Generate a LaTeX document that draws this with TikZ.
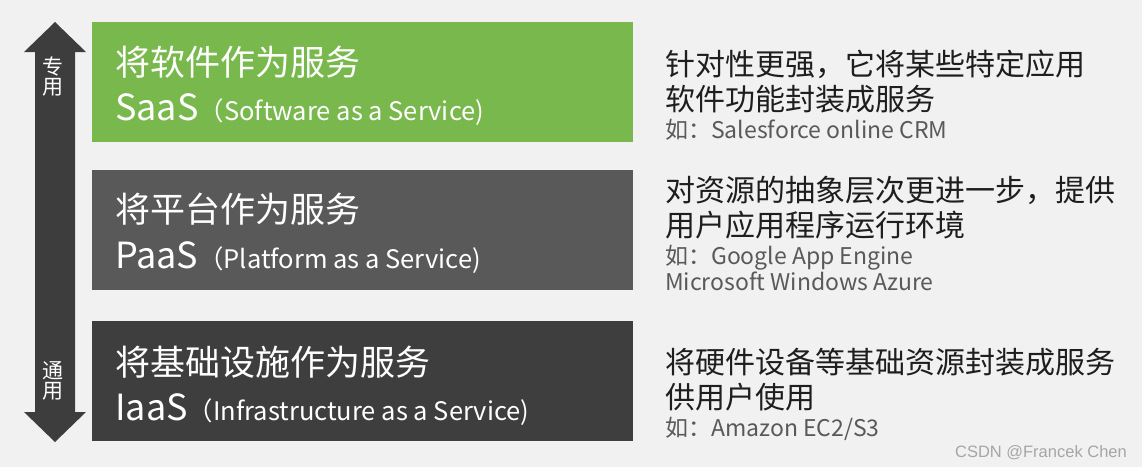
\documentclass[tikz,border=0pt]{standalone}
\usepackage{fontspec}
\setmainfont{Noto Sans CJK SC}
\newfontfamily\wmfont{Liberation Sans}
\definecolor{bgc}{HTML}{F1F1F1}
\definecolor{saasc}{HTML}{79B84C}
\definecolor{paasc}{HTML}{595959}
\definecolor{iaasc}{HTML}{3E3E3E}
\definecolor{arrowc}{HTML}{3D3D3D}
\definecolor{desc}{HTML}{1E1E1E}
\definecolor{exc}{HTML}{595959}
\definecolor{wmc}{HTML}{A6A6A6}
\newcommand{\fs}[1]{\fontsize{#1}{#1}\selectfont}
\tikzset{
  layerbox/.style={draw=none, minimum width=541pt, minimum height=120pt, anchor=north west, inner sep=0pt},
  cntitle/.style={anchor=base west, inner sep=0pt, text=white, font=\fs{35}},
  entitle/.style={anchor=base west, inner sep=0pt, text=white, font=\fs{36}},
  desctext/.style={anchor=base west, inner sep=0pt, text=desc, font=\fs{30}},
  extext/.style={anchor=base west, inner sep=0pt, text=exc, font=\fs{23}},
  vtext/.style={inner sep=0pt, text=white, font=\fs{21}, align=center},
}
\begin{document}
\begin{tikzpicture}[x=1pt,y=-1pt]
\fill[bgc] (0,0) rectangle (1142,467);
\useasboundingbox (0,0) rectangle (1142,467);

% double arrow
\fill[arrowc] (55,22) -- (86,52) -- (75,52) -- (75,412) -- (86,412) -- (55,442)
  -- (24,412) -- (35,412) -- (35,52) -- (24,52) -- cycle;
\node[vtext] (zhuan) at (53,77) {专\\[-1pt]用};
\node[vtext] (tong) at (53,381) {通\\[-1pt]用};

% boxes
\node[layerbox, fill=saasc] (saas) at (92,22) {};
\node[layerbox, fill=paasc] (paas) at (92,170) {};
\node[layerbox, fill=iaasc] (iaas) at (92,321) {};

% box titles
\node[cntitle] (saas1) at (115,75) {将软件作为服务};
\node[entitle] (saas2) at (115,120) {SaaS{\fs{25.5}（Software as a Service)}};
\node[cntitle] (paas1) at (115,222) {将平台作为服务};
\node[entitle] (paas2) at (115,268) {PaaS{\fs{25.5}（Platform as a Service)}};
\node[cntitle] (iaas1) at (115,375) {将基础设施作为服务};
\node[entitle] (iaas2) at (115,420) {IaaS{\fs{25.5}（Infrastructure as a Service)}};

% descriptions
\node[desctext] (sd1) at (665,75) {针对性更强，它将某些特定应用};
\node[desctext] (sd2) at (665,110) {软件功能封装成服务};
\node[extext] (se1) at (665,138) {如：Salesforce online CRM};

\node[desctext] (pd1) at (665,201) {对资源的抽象层次更进一步，提供};
\node[desctext] (pd2) at (665,236) {用户应用程序运行环境};
\node[extext] (pe1) at (665,264) {如：Google App Engine};
\node[extext] (pe2) at (665,290) {Microsoft Windows Azure};

\node[desctext] (id1) at (665,373) {将硬件设备等基础资源封装成服务};
\node[desctext] (id2) at (665,408) {供用户使用};
\node[extext] (ie1) at (665,436) {如：Amazon EC2/S3};

\node[anchor=base east, inner sep=0pt, text=wmc, font=\wmfont\fs{16.5}] (wm) at (1127,457) {CSDN @Francek Chen};
\end{tikzpicture}
\end{document}
